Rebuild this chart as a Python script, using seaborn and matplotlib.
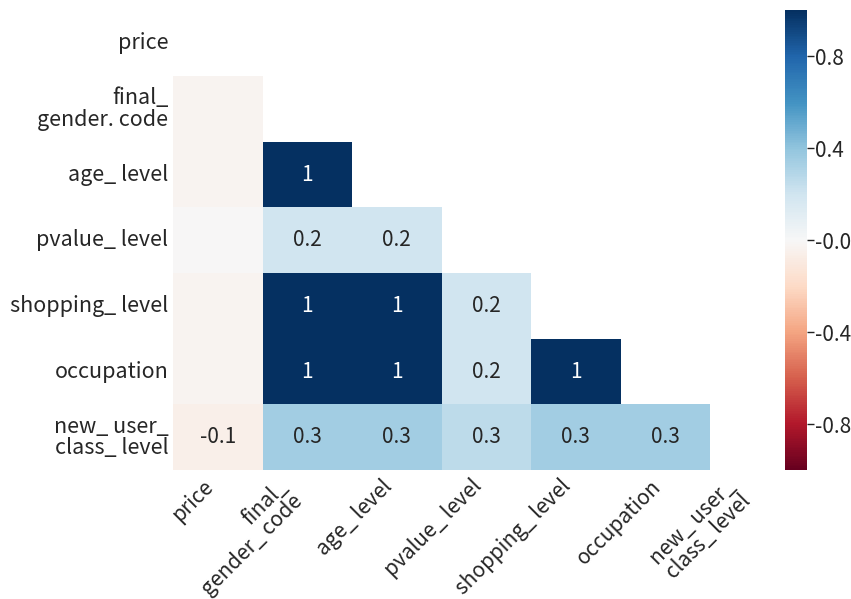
import numpy as np
import pandas as pd
import matplotlib
matplotlib.use("Agg")
import matplotlib.pyplot as plt
import seaborn as sns

sns.set_style("white")
plt.rcParams['font.family'] = ['Noto Sans CJK SC', 'DejaVu Sans']
plt.rcParams['axes.unicode_minus'] = False

columns = ["price", "final_gender_code", "age_level", "pvalue_level",
           "shopping_level", "occupation", "new_user_class_level"]
y_labels = ["price", "final_\ngender. code", "age_ level", "pvalue_ level",
            "shopping_ level", "occupation", "new_ user_\nclass_ level"]
x_labels = ["price", "final_\ngender_ code", "age_ level", "pvalue_ level",
            "shopping_ level", "occupation", "new_ user_\nclass_ level"]

# lower-triangle nullity correlations (row i, columns 0..i-1)
row_final_gender = [-0.025]
row_age = [-0.025, 1.0]
row_pvalue = [-0.005, 0.2, 0.2]
row_shopping = [-0.025, 1.0, 1.0, 0.2]
row_occupation = [-0.025, 1.0, 1.0, 0.2, 1.0]
row_new_user = [-0.06, 0.349, 0.349, 0.26, 0.349, 0.349]
lower_rows = [row_final_gender, row_age, row_pvalue, row_shopping,
              row_occupation, row_new_user]

n = len(columns)
M = np.eye(n)
for i, r in enumerate(lower_rows, start=1):
    for j, v in enumerate(r):
        M[i, j] = v
        M[j, i] = v
corr = pd.DataFrame(M, index=columns, columns=columns)
mask = np.triu(np.ones_like(M, dtype=bool))

def fmt(t):
    if 0.95 <= t < 1:
        return "<1"
    if -1 < t <= -0.95:
        return ">-1"
    if t == 1:
        return "1"
    if t == -1:
        return "-1"
    if -0.05 < t < 0.05:
        return ""
    return str(round(t, 1))

annot = np.vectorize(fmt)(M)

ax_pos = [0.2033, 0.2154, 0.7362, 0.7671]
cax_pos = [0.9224, 0.2154, 0.0259, 0.7671]

fig = plt.figure(figsize=(8.51, 5.99), dpi=100)
ax = fig.add_axes(ax_pos)
cax = fig.add_axes(cax_pos)

sns.heatmap(corr, mask=mask, cmap="RdBu", vmin=-1, vmax=1, annot=annot, fmt="",
            annot_kws={"size": 15}, ax=ax, cbar_ax=cax)
ax.set_position(ax_pos)
cax.set_position(cax_pos)

ax.set_xticks(np.arange(n) + 0.5)
ax.set_xticklabels(x_labels, rotation=45, ha="right", rotation_mode="default",
                   fontsize=15, linespacing=0.95)
ax.set_yticks(np.arange(n) + 0.5)
ax.set_yticklabels(y_labels, rotation=0, fontsize=15.5, linespacing=0.95)
ax.tick_params(axis="both", length=0)
ax.tick_params(axis="x", pad=4)
ax.set_xlabel("")
ax.set_ylabel("")

cax.set_yticks([-0.8, -0.4, 0.0, 0.4, 0.8])
cax.set_yticklabels(["-0.8", "-0.4", "-0.0", "0.4", "0.8"], fontsize=15)
cax.tick_params(axis="y", length=5, width=1, pad=1, color="#222222")
for s in cax.spines.values():
    s.set_visible(False)

fig.savefig("out.png", dpi=100)
